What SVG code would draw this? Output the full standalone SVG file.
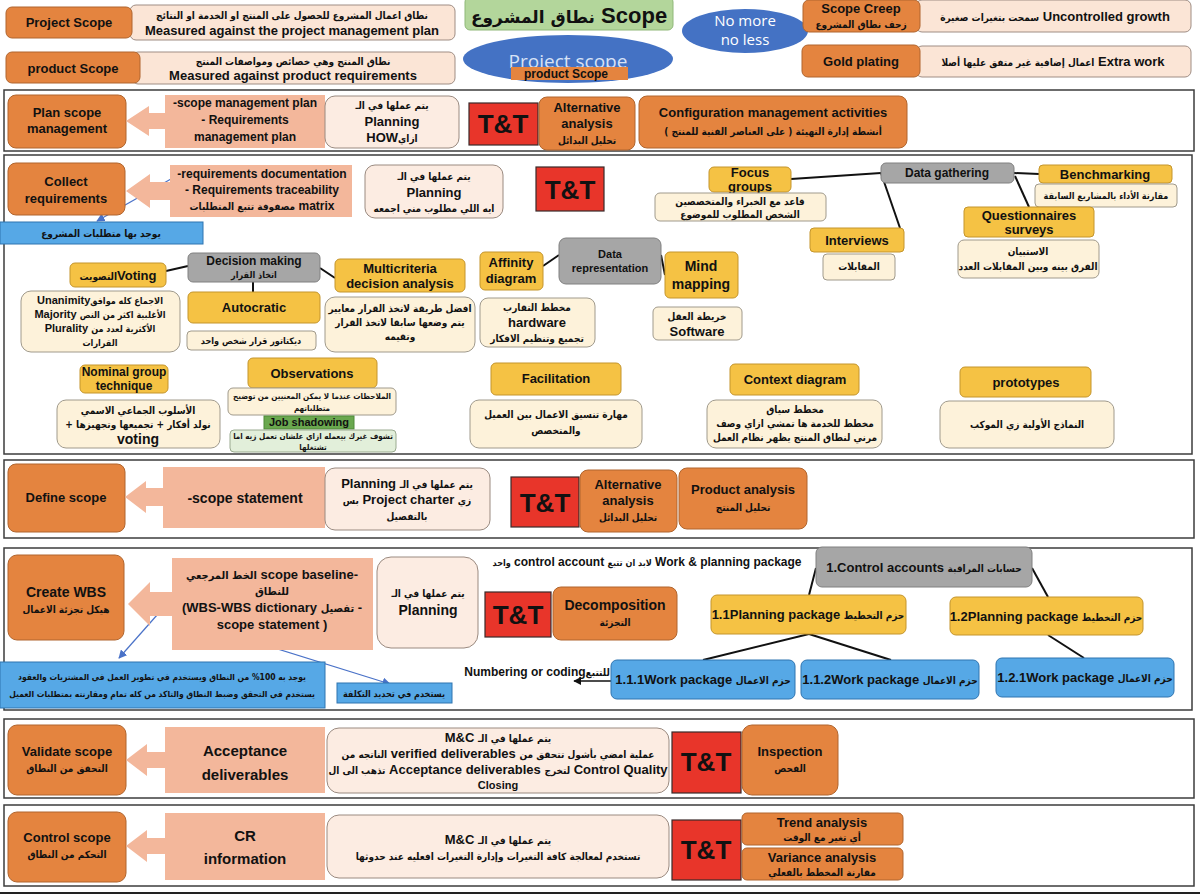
<svg xmlns="http://www.w3.org/2000/svg" width="1200" height="894" viewBox="0 0 1200 894">
<defs>
<marker id="ab" viewBox="0 0 10 10" refX="9" refY="5" markerWidth="7" markerHeight="7" orient="auto"><path d="M0,0 L10,5 L0,10 Z" fill="#4a72c8"/></marker>
<marker id="ak" viewBox="0 0 10 10" refX="9" refY="5" markerWidth="6" markerHeight="6" orient="auto"><path d="M0,0 L10,5 L0,10 Z" fill="#111"/></marker>
</defs>
<style>
text{font-family:"Liberation Sans","DejaVu Sans Condensed","DejaVu Sans",sans-serif;text-anchor:middle;fill:#111;font-weight:bold;font-size:13px}
.a{font-family:"DejaVu Sans Condensed","DejaVu Sans",sans-serif;font-size:10px}
.s{font-size:9px}
.big{font-size:26px;font-family:"Liberation Sans","DejaVu Sans",sans-serif}
.or{fill:#e4843f;stroke:#b0652e}
.pe{fill:#fbe5d6;stroke:#9f8d84}
.ac{fill:#f3b79b}
.pl{fill:#fcece2;stroke:#9a8a80}
.tt{fill:#e8352a;stroke:#3a2a2a;stroke-width:1.2}
.ye{fill:#f5c244;stroke:#c4952c}
.cr{fill:#fdf2da;stroke:#a09a8c}
.gr{fill:#a6a6a6;stroke:#808080}
.bl{fill:#56a8e6;stroke:#2f74b0}
.fr{fill:none;stroke:#3c3c3c;stroke-width:1.5}
.cn{stroke:#111;stroke-width:2;fill:none}
.ba{stroke:#4a72c8;stroke-width:1.2;fill:none}
.w{font-weight:normal;font-family:"Open Sans","Liberation Sans",sans-serif}
</style>
<rect width="1200" height="894" fill="#ffffff"/>

<g id="frames">
<rect class="fr" x="4" y="90" width="1190" height="61"/>
<rect class="fr" x="4" y="155" width="1188" height="299"/>
<rect class="fr" x="4" y="460" width="1190" height="78"/>
<rect class="fr" x="4" y="548" width="1188" height="162"/>
<rect class="fr" x="4" y="719" width="1190" height="79"/>
<rect class="fr" x="4" y="805" width="1190" height="81"/>
<line x1="0" y1="893" x2="1200" y2="893" stroke="#222" stroke-width="2"/>
</g>

<g id="connectors">
<line class="cn" x1="166" y1="271" x2="188" y2="266"/>
<line class="cn" x1="253" y1="282" x2="253" y2="292"/>
<line class="cn" x1="320" y1="268" x2="335" y2="278"/>
<line class="cn" x1="543" y1="266" x2="559" y2="255"/>
<line class="cn" x1="661" y1="255" x2="665" y2="275"/>
<line class="cn" x1="881" y1="173" x2="791" y2="179"/>
<line class="cn" x1="881" y1="173" x2="900" y2="228"/>
<line class="cn" x1="1014" y1="173" x2="1039" y2="174"/>
<line class="cn" x1="1015" y1="176" x2="1029" y2="207"/>
<line class="cn" x1="816" y1="568" x2="809" y2="595"/>
<line class="cn" x1="1032" y1="568" x2="1048" y2="597"/>
<line class="cn" x1="809" y1="634" x2="703" y2="660"/>
<line class="cn" x1="809" y1="634" x2="891" y2="660"/>
<line class="cn" x1="1048" y1="635" x2="1084" y2="658"/>
<line stroke="#111" stroke-width="1.3" x1="611" y1="681" x2="574" y2="681" marker-end="url(#ak)"/>
<line class="ba" x1="185" y1="171" x2="97" y2="221" marker-end="url(#ab)"/>
<line class="ba" x1="188" y1="580" x2="119" y2="658" marker-end="url(#ab)"/>
<line class="ba" x1="210" y1="628" x2="390" y2="684" marker-end="url(#ab)"/>
</g>

<g id="project-scope">
<rect class="pe" x="130" y="5" width="325" height="35" rx="6"/>
<rect class="or" x="6" y="7" width="126" height="31" rx="6"/>
<text x="69" y="27">Project Scope</text>
<text class="a" x="292" y="19">نطاق اعمال المشروع للحصول على المنتج او الخدمة او النتائج</text>
<text x="292" y="35">Measured against the project management plan</text>
</g>
<g id="product-scope">
<rect class="pe" x="132" y="52" width="323" height="32" rx="6"/>
<rect class="or" x="6" y="52" width="134" height="31" rx="6"/>
<text x="73" y="73">product Scope</text>
<text class="a" x="293" y="65">نطاق المنتج وهي خصائص ومواصفات المنتج</text>
<text x="293" y="80">Measured against  product requirements</text>
</g>
<g id="scope-title">
<rect x="465" y="-3" width="208" height="33" rx="5" fill="#b3d69b" stroke="#8fb878"/>
<text x="569" y="23" style="font-size:22px"><tspan style="font-family:'DejaVu Sans',sans-serif;font-size:17px">نطاق المشروع</tspan> Scope</text>
</g>
<g id="project-scope-ellipse">
<ellipse cx="568" cy="59" rx="105" ry="24" fill="#4472c4"/>
<text class="w" x="568" y="68" style="font-size:19px;fill:#d8e2f6">Project scope</text>
<rect x="511" y="67" width="117" height="13" fill="#e4843f"/>
<text x="566" y="78" style="font-size:12px">product Scope</text>
</g>
<g id="no-more-no-less">
<ellipse cx="745" cy="31" rx="63" ry="22" fill="#4472c4"/>
<text class="w" x="745" y="26" style="font-size:15px;fill:#fff">No more</text>
<text class="w" x="745" y="45" style="font-size:15px;fill:#fff">no less</text>
</g>
<g id="scope-creep">
<rect class="pe" x="916" y="0" width="275" height="32" rx="6"/>
<rect class="or" x="803" y="0" width="117" height="32" rx="6"/>
<text x="861" y="13">Scope Creep</text>
<text class="a" x="861" y="28">زحف نطاق المشروع</text>
<text x="1055" y="21"><tspan class="a">سمحت بتغيرات صغيرة</tspan> Uncontrolled growth</text>
</g>
<g id="gold-plating">
<rect class="pe" x="916" y="46" width="275" height="31" rx="6"/>
<rect class="or" x="802" y="45" width="118" height="32" rx="6"/>
<text x="861" y="66">Gold plating</text>
<text x="1053" y="66"><tspan class="a">اعمال إضافية غير متفق عليها أصلا</tspan>  Extra work</text>
</g>

<g id="plan-scope">
<rect class="or" x="8" y="95" width="118" height="53" rx="8"/>
<text x="67" y="117">Plan scope</text>
<text x="67" y="133">management</text>
</g>
<g id="plan-outputs">
<path class="ac" d="M325,95 H165 V113 H149 V106 L126,121 L149,136 V129 H165 V148 H325 Z"/>
<text x="245" y="107" style="font-size:12px">-scope management plan</text>
<text x="245" y="124" style="font-size:12px">- Requirements</text>
<text x="245" y="141" style="font-size:12px">management plan</text>
</g>
<g id="plan-planning">
<rect class="pl" x="325" y="96" width="134" height="52" rx="10"/>
<text class="a" x="392" y="109">يتم عملها في الـ</text>
<text x="392" y="126">Planning</text>
<text x="392" y="142">HOW<tspan class="a">ازاي</tspan></text>
</g>
<g id="plan-tt">
<rect class="tt" x="469" y="103" width="69" height="42"/>
<text class="big" x="503" y="133">T&amp;T</text>
</g>
<g id="plan-alternative">
<rect class="or" x="539" y="97" width="96" height="53" rx="8"/>
<text x="587" y="112">Alternative</text>
<text x="587" y="128">analysis</text>
<text class="a" x="587" y="144">تحليل البدائل</text>
</g>
<g id="plan-configuration">
<rect class="or" x="639" y="96" width="268" height="52" rx="8"/>
<text x="773" y="117">Configuration management activities</text>
<text class="a" x="773" y="135" style="direction:rtl">أنشطة إدارة التهيئة ( على العناصر الفنية للمنتج )</text>
</g>

<g id="collect">
<rect class="or" x="8" y="163" width="117" height="52" rx="8"/>
<text x="66" y="186">Collect</text>
<text x="66" y="203">requirements</text>
</g>
<g id="collect-outputs">
<path class="ac" d="M352,165 H170 V182 H150 V174 L126,191 L150,208 V200 H170 V217 H352 Z"/>
<text x="262" y="178" style="font-size:12px">-requirements documentation</text>
<text x="262" y="194" style="font-size:12px">- Requirements traceability</text>
<text x="262" y="210" style="font-size:12px"><tspan class="a">مصفوفة تتبع المتطلبات</tspan> matrix</text>
</g>
<g id="collect-note">
<rect class="bl" x="0" y="222" width="203" height="22"/>
<text class="a" x="101" y="237">يوجد بها متطلبات المشروع</text>
</g>
<g id="collect-planning">
<rect class="pl" x="365" y="165" width="138" height="53" rx="10"/>
<text class="a" x="434" y="180">يتم عملها في الـ</text>
<text x="434" y="197">Planning</text>
<text class="a" x="434" y="212">ايه اللي مطلوب مني اجمعه</text>
</g>
<g id="collect-tt">
<rect class="tt" x="536" y="167" width="68" height="44"/>
<text class="big" x="570" y="199">T&amp;T</text>
</g>
<g id="decision-making">
<rect class="gr" x="188" y="253" width="132" height="29" rx="5"/>
<text x="254" y="265" style="font-size:12px">Decision making</text>
<text class="a s" x="254" y="278">اتخاذ القرار</text>
</g>
<g id="voting">
<rect class="ye" x="70" y="263" width="96" height="24" rx="5"/>
<text x="118" y="280"><tspan class="a">التصويت</tspan>Voting</text>
</g>
<g id="voting-desc">
<rect class="cr" x="21" y="291" width="159" height="61" rx="10"/>
<text x="100" y="304" style="font-size:11px">Unanimity<tspan class="a s">الاجماع كله موافق</tspan></text>
<text x="100" y="318" style="font-size:11px">Majority <tspan class="a s">الأغلبية اكثر من النص</tspan></text>
<text x="100" y="332" style="font-size:11px">Plurality <tspan class="a s">الأكثرية لعدد من</tspan></text>
<text class="a s" x="100" y="346">القرارات</text>
</g>
<g id="autocratic">
<rect class="ye" x="188" y="292" width="132" height="31" rx="5"/>
<text x="254" y="312">Autocratic</text>
</g>
<g id="autocratic-desc">
<rect class="cr" x="187" y="331" width="129" height="19" rx="4"/>
<text class="a s" x="251" y="344">ديكتاتور قرار شخص واحد</text>
</g>
<g id="multicriteria">
<rect class="ye" x="335" y="259" width="130" height="33" rx="5"/>
<text x="400" y="273">Multicriteria</text>
<text x="400" y="288">decision analysis</text>
</g>
<g id="multicriteria-desc">
<rect class="cr" x="325" y="297" width="150" height="55" rx="10"/>
<text class="a" x="400" y="312">افضل طريقة لاتخذ القرار معايير</text>
<text class="a" x="400" y="326">يتم وضعها سابقا لاتخذ القرار</text>
<text class="a" x="400" y="340">وتقيمه</text>
</g>
<g id="affinity">
<rect class="ye" x="480" y="252" width="63" height="38" rx="5"/>
<text x="511" y="267">Affinity</text>
<text x="511" y="283">diagram</text>
</g>
<g id="affinity-desc">
<rect class="cr" x="480" y="298" width="115" height="49" rx="8"/>
<text class="a" x="537" y="311">مخطط التقارب</text>
<text x="537" y="327">hardware</text>
<text class="a" x="537" y="342">تجميع وتنظيم الافكار</text>
</g>
<g id="data-representation">
<rect class="gr" x="559" y="238" width="102" height="46" rx="7"/>
<text x="610" y="258" style="font-size:11px">Data</text>
<text x="610" y="272" style="font-size:11px">representation</text>
</g>
<g id="mind-mapping">
<rect class="ye" x="665" y="252" width="73" height="46" rx="5"/>
<text x="701" y="271" style="font-size:14px">Mind</text>
<text x="701" y="289" style="font-size:14px">mapping</text>
</g>
<g id="mind-desc">
<rect class="cr" x="653" y="307" width="89" height="33" rx="5"/>
<text class="a" x="697" y="320">خريطة العقل</text>
<text x="697" y="336">Software</text>
</g>
<g id="focus-groups">
<rect class="ye" x="709" y="167" width="82" height="25" rx="5"/>
<text x="750" y="177">Focus</text>
<text x="750" y="191">groups</text>
</g>
<g id="focus-desc">
<rect class="cr" x="655" y="193" width="171" height="28" rx="5"/>
<text class="a" x="740" y="205">قاعد مع الخبراء والمتخصصين</text>
<text class="a" x="740" y="218">الشخص المطلوب للموضوع</text>
</g>
<g id="data-gathering">
<rect class="gr" x="881" y="163" width="133" height="20" rx="5"/>
<text x="947" y="177" style="font-size:12px">Data gathering</text>
</g>
<g id="benchmarking">
<rect class="ye" x="1039" y="165" width="133" height="18" rx="4"/>
<text x="1105" y="179">Benchmarking</text>
</g>
<g id="benchmarking-desc">
<rect class="cr" x="1035" y="184" width="142" height="23" rx="4"/>
<text class="a s" x="1106" y="199">مقارنة الأداء بالمشاريع السابقة</text>
</g>
<g id="questionnaires">
<rect class="ye" x="964" y="207" width="130" height="30" rx="4"/>
<text x="1029" y="220">Questionnaires</text>
<text x="1029" y="234">surveys</text>
</g>
<g id="questionnaires-desc">
<rect class="cr" x="958" y="240" width="141" height="38" rx="6"/>
<text class="a" x="1028" y="255">الاستبيان</text>
<text class="a" x="1028" y="270">الفرق بينه وبين المقابلات العدد</text>
</g>
<g id="interviews">
<rect class="ye" x="810" y="228" width="94" height="24" rx="4"/>
<text x="857" y="245">Interviews</text>
</g>
<g id="interviews-desc">
<rect class="cr" x="823" y="254" width="72" height="26" rx="4"/>
<text class="a" x="859" y="270">المقابلات</text>
</g>
<g id="nominal-group">
<rect class="ye" x="80" y="365" width="88" height="28" rx="5"/>
<text x="124" y="376" style="font-size:12px">Nominal group</text>
<text x="124" y="390" style="font-size:12px">technique</text>
</g>
<g id="nominal-desc">
<rect class="cr" x="57" y="400" width="163" height="48" rx="9"/>
<text class="a" x="138" y="414">الأسلوب الجماعي الاسمي</text>
<text class="a" x="138" y="428" style="direction:rtl">نولد أفكار + تجميعها وتجهيزها +</text>
<text x="138" y="444" style="font-size:14px">voting</text>
</g>
<g id="observations">
<rect class="ye" x="248" y="358" width="129" height="30" rx="5"/>
<text x="312" y="378">Observations</text>
</g>
<g id="observations-desc">
<rect class="cr" x="228" y="388" width="168" height="27" rx="5"/>
<text class="a" x="312" y="399" style="font-size:8px">الملاحظات عندما لا يمكن المعنيين من توضيح</text>
<text class="a" x="312" y="411" style="font-size:8px">متطلباتهم</text>
</g>
<g id="job-shadowing">
<rect x="264" y="416" width="90" height="13" fill="#6aa84f" stroke="#4e8a38"/>
<text x="309" y="426" style="font-size:11px">Job shadowing</text>
</g>
<g id="job-shadowing-desc">
<rect x="230" y="430" width="166" height="22" rx="4" fill="#e2efda" stroke="#9aaa90"/>
<text class="a" x="313" y="439" style="font-size:8px">تشوف غيرك بيعمله ازاي علشان تعمل زيه اما</text>
<text class="a" x="313" y="450" style="font-size:8px">تشتغلها</text>
</g>
<g id="facilitation">
<rect class="ye" x="491" y="363" width="130" height="32" rx="5"/>
<text x="556" y="383">Facilitation</text>
</g>
<g id="facilitation-desc">
<rect class="cr" x="470" y="400" width="172" height="48" rx="9"/>
<text class="a" x="556" y="418">مهارة تنسيق الاعمال بين العميل</text>
<text class="a" x="556" y="434">والمتخصص</text>
</g>
<g id="context-diagram">
<rect class="ye" x="730" y="364" width="129" height="31" rx="5"/>
<text x="795" y="384">Context diagram</text>
</g>
<g id="context-desc">
<rect class="cr" x="707" y="400" width="175" height="48" rx="9"/>
<text class="a" x="795" y="413">مخطط سياق</text>
<text class="a" x="795" y="427">مخطط للخدمة ها تمشي ازاي وصف</text>
<text class="a" x="795" y="441">مرني لنطاق المنتج يظهر نظام العمل</text>
</g>
<g id="prototypes">
<rect class="ye" x="960" y="367" width="131" height="30" rx="5"/>
<text x="1026" y="387">prototypes</text>
</g>
<g id="prototypes-desc">
<rect class="cr" x="940" y="401" width="174" height="47" rx="9"/>
<text class="a" x="1027" y="428">النماذج الأولية زي الموكب</text>
</g>

<g id="define-scope">
<rect class="or" x="8" y="464" width="117" height="68" rx="8"/>
<text x="66" y="502">Define scope</text>
</g>
<g id="define-outputs">
<path class="ac" d="M325,467 H163 V488 H146 V481 L125,497 L146,513 V506 H163 V528 H325 Z"/>
<text x="245" y="503" style="font-size:14px">-scope statement</text>
</g>
<g id="define-planning">
<rect class="pl" x="325" y="468" width="165" height="62" rx="10"/>
<text x="407" y="488">Planning <tspan class="a">يتم عملها في الـ</tspan></text>
<text x="407" y="504"><tspan class="a">بس</tspan> Project charter <tspan class="a">زي</tspan></text>
<text class="a" x="407" y="520">بالتفصيل</text>
</g>
<g id="define-tt">
<rect class="tt" x="511" y="477" width="68" height="50"/>
<text class="big" x="545" y="512">T&amp;T</text>
</g>
<g id="define-alternative">
<rect class="or" x="580" y="470" width="97" height="62" rx="8"/>
<text x="628" y="489">Alternative</text>
<text x="628" y="505">analysis</text>
<text class="a" x="628" y="521">تحليل البدائل</text>
</g>
<g id="product-analysis">
<rect class="or" x="679" y="468" width="128" height="61" rx="8"/>
<text x="743" y="494">Product analysis</text>
<text class="a" x="743" y="511">تحليل المنتج</text>
</g>

<g id="create-wbs">
<rect class="or" x="8" y="555" width="116" height="85" rx="9"/>
<text x="66" y="597" style="font-size:14px">Create WBS</text>
<text class="a" x="66" y="613">هيكل تجزئة الاعمال</text>
</g>
<g id="wbs-outputs">
<path class="ac" d="M373,558 H172 V592 H150 V582 L128,604 L150,626 V616 H172 V650 H373 Z"/>
<text x="272" y="579"><tspan class="a" style="font-size:11px">الخط المرجعي</tspan> scope baseline-</text>
<text class="a" x="272" y="595" style="font-size:11px">للنطاق</text>
<text x="272" y="612">(WBS-WBS dictionary <tspan class="a" style="font-size:11px">تفصيل</tspan> -</text>
<text x="272" y="629">scope statement )</text>
</g>
<g id="wbs-planning">
<rect class="pl" x="377" y="557" width="101" height="91" rx="14"/>
<text class="a" x="428" y="597">يتم عملها في الـ</text>
<text x="428" y="615" style="font-size:14px">Planning</text>
</g>
<g id="wbs-tt">
<rect class="tt" x="485" y="592" width="66" height="45"/>
<text class="big" x="518" y="624">T&amp;T</text>
</g>
<g id="decomposition">
<rect class="or" x="553" y="587" width="124" height="53" rx="8"/>
<text x="615" y="610" style="font-size:14px">Decomposition</text>
<text class="a" x="615" y="626">التجزئة</text>
</g>
<g id="wbs-note">
<text x="647" y="566" style="font-size:12px"><tspan class="a s">واحد</tspan>  control account  <tspan class="a s">لابد ان تتبع</tspan> Work &amp; planning package</text>
</g>
<g id="wbs-note-big">
<rect class="bl" x="0" y="662" width="325" height="46"/>
<text class="a" x="162" y="680" style="direction:rtl;font-size:8.5px">يوجد به 100% من النطاق ويستخدم في تطوير العمل في المشتريات والعقود</text>
<text class="a" x="162" y="697" style="font-size:8.5px">يستخدم في التحقق وضبط النطاق والتاكد من كله تمام ومقارنته بمتطلبات العميل</text>
</g>
<g id="wbs-note-small">
<rect class="bl" x="337" y="683" width="115" height="20"/>
<text class="a s" x="394" y="697">يستخدم في تحديد التكلفة</text>
</g>
<g id="control-accounts">
<rect class="gr" x="816" y="547" width="216" height="40" rx="6"/>
<text x="924" y="572">1.Control accounts  <tspan class="a">حسابات المراقبة</tspan></text>
</g>
<g id="planning-package-1">
<rect class="ye" x="711" y="595" width="195" height="39" rx="6"/>
<text x="808" y="619">1.1Planning package <tspan class="a">حزم التخطيط</tspan></text>
</g>
<g id="planning-package-2">
<rect class="ye" x="950" y="597" width="193" height="38" rx="6"/>
<text x="1046" y="621">1.2Planning package <tspan class="a">حزم التخطيط</tspan></text>
</g>
<g id="work-package-111">
<rect class="bl" x="611" y="660" width="184" height="39" rx="6"/>
<text x="703" y="684">1.1.1Work package <tspan class="a">حزم الاعمال</tspan></text>
</g>
<g id="work-package-112">
<rect class="bl" x="801" y="660" width="178" height="39" rx="6"/>
<text x="890" y="684">1.1.2Work package <tspan class="a">حزم الاعمال</tspan></text>
</g>
<g id="work-package-121">
<rect class="bl" x="996" y="658" width="178" height="39" rx="6"/>
<text x="1085" y="682">1.2.1Work package <tspan class="a">حزم الاعمال</tspan></text>
</g>
<g id="numbering">
<text x="537" y="676" style="font-size:12px">Numbering  or coding<tspan class="a">للتتبع</tspan></text>
</g>

<g id="validate-scope">
<rect class="or" x="8" y="725" width="118" height="70" rx="9"/>
<text x="67" y="756">Validate scope</text>
<text class="a" x="67" y="772">التحقق من النطاق</text>
</g>
<g id="validate-outputs">
<path class="ac" d="M325,727 H165 V752 H147 V744 L126,760 L147,776 V768 H165 V793 H325 Z"/>
<text x="245" y="756" style="font-size:15px">Acceptance</text>
<text x="245" y="780" style="font-size:15px">deliverables</text>
</g>
<g id="validate-mc">
<rect class="pl" x="327" y="728" width="342" height="65" rx="12"/>
<text x="498" y="742">M&amp;C <tspan class="a">يتم عملها في الـ</tspan></text>
<text x="498" y="758"><tspan class="a">الناتجه من</tspan>  verified deliverables  <tspan class="a">عملية امضي بأشول تتحقق من</tspan></text>
<text x="498" y="774"><tspan class="a">تذهب الى ال</tspan> Acceptance deliverables <tspan class="a">لتخرج</tspan>  Control Quality</text>
<text x="498" y="789" style="font-size:11px">Closing</text>
</g>
<g id="validate-tt">
<rect class="tt" x="672" y="732" width="69" height="61"/>
<text class="big" x="706" y="771">T&amp;T</text>
</g>
<g id="inspection">
<rect class="or" x="742" y="725" width="96" height="70" rx="10"/>
<text x="790" y="756">Inspection</text>
<text class="a" x="790" y="772">الفحص</text>
</g>

<g id="control-scope">
<rect class="or" x="8" y="812" width="118" height="70" rx="9"/>
<text x="67" y="842">Control scope</text>
<text class="a" x="67" y="858">التحكم من النطاق</text>
</g>
<g id="control-outputs">
<path class="ac" d="M325,813 H165 V838 H147 V830 L126,846 L147,862 V854 H165 V880 H325 Z"/>
<text x="245" y="841" style="font-size:15px">CR</text>
<text x="245" y="864" style="font-size:15px">information</text>
</g>
<g id="control-mc">
<rect class="pl" x="327" y="815" width="342" height="63" rx="12"/>
<text x="498" y="844">M&amp;C <tspan class="a">يتم عملها في الـ</tspan></text>
<text class="a" x="498" y="860">تستخدم لمعالجة كافة التغيرات وإدارة التغيرات افعليه عند حدوثها</text>
</g>
<g id="control-tt">
<rect class="tt" x="672" y="820" width="69" height="60"/>
<text class="big" x="706" y="859">T&amp;T</text>
</g>
<g id="trend-analysis">
<rect class="or" x="742" y="813" width="161" height="32" rx="5"/>
<text x="822" y="827">Trend  analysis</text>
<text class="a" x="822" y="841">أي تغير مع الوقت</text>
</g>
<g id="variance-analysis">
<rect class="or" x="742" y="848" width="161" height="32" rx="5"/>
<text x="822" y="862">Variance  analysis</text>
<text class="a" x="822" y="876">مقارنة المخطط بالفعلي</text>
</g>
</svg>
